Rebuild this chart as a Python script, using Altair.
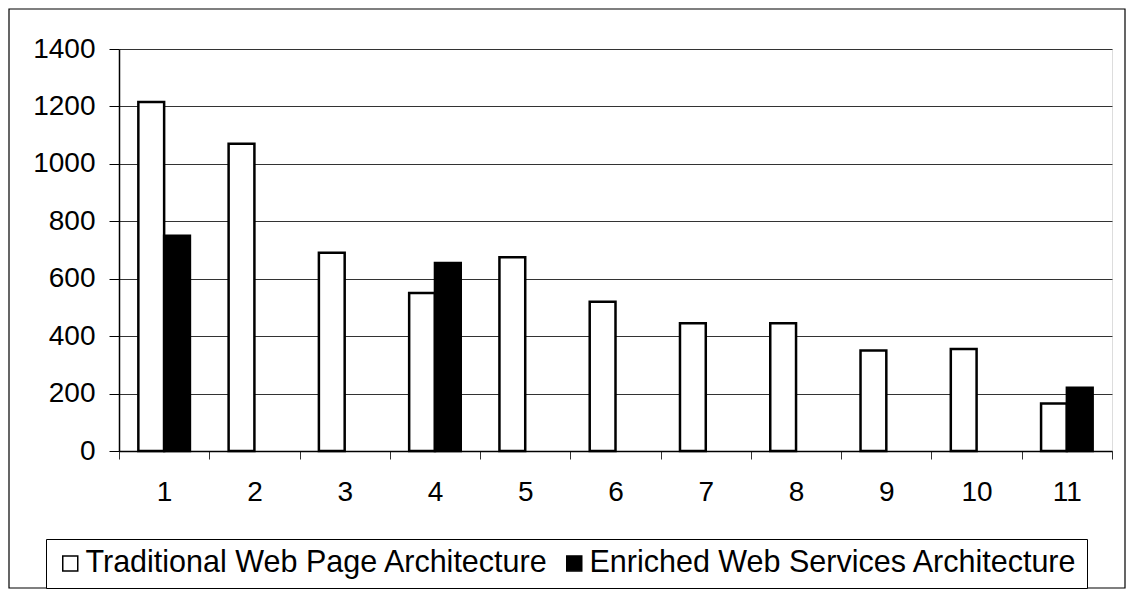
import altair as alt
import pandas as pd

categories = [str(i) for i in range(1, 12)]
traditional = [1215, 1070, 690, 550, 675, 520, 445, 445, 350, 355, 165]
enriched = [750, None, None, 655, None, None, None, None, None, None, 220]
series = ["Traditional Web Page Architecture", "Enriched Web Services Architecture"]
y_ticks = [0, 200, 400, 600, 800, 1000, 1200, 1400]

rows = []
for c, t, e in zip(categories, traditional, enriched):
    rows.append({"cat": c, "series": series[0], "value": t})
    if e is not None:
        rows.append({"cat": c, "series": series[1], "value": e})
df = pd.DataFrame(rows)

W, H = 993, 402
FONT = "Liberation Sans"

bars = alt.Chart(df).mark_bar(stroke="black", strokeWidth=2.5).encode(
    x=alt.X(
        "cat:N",
        sort=categories,
        scale=alt.Scale(paddingInner=0, paddingOuter=0),
        axis=alt.Axis(
            title=None, labelAngle=0, tickBand="extent", grid=False,
            domainColor="black", domainWidth=1.5, tickColor="#333",
            tickSize=8, labelPadding=19, labelFontSize=28, labelColor="black",
            labelFont=FONT,
        ),
    ),
    xOffset=alt.XOffset(
        "series:N", sort=series,
        scale=alt.Scale(domain=series, paddingInner=0, paddingOuter=0.75),
    ),
    y=alt.Y(
        "value:Q",
        scale=alt.Scale(domain=[0, 1400], nice=False),
        axis=alt.Axis(
            title=None, values=y_ticks, format="d", grid=True, gridColor="#333",
            gridWidth=1, domainColor="black", domainWidth=1.5, tickColor="black",
            tickSize=10, labelPadding=14, labelFontSize=28, labelColor="black",
            labelFont=FONT,
        ),
    ),
    fill=alt.Fill(
        "series:N", sort=series,
        scale=alt.Scale(domain=series, range=["white", "black"]),
        legend=alt.Legend(
            title=None, orient="none", legendX=-73, legendY=490,
            direction="horizontal", strokeColor="black", fillColor="white",
            padding=9, labelFontSize=30.5, labelFont=FONT, labelColor="black",
            symbolType="square", symbolSize=225, symbolStrokeColor="black",
            symbolStrokeWidth=1.5, labelOffset=0, columnPadding=10,
            labelLimit=1000, cornerRadius=0,
        ),
    ),
)

frame = alt.Chart(pd.DataFrame({"a": [0]})).mark_rect(
    fill="transparent", stroke="black", strokeWidth=1.2
).encode(
    x=alt.value(-110), x2=alt.value(1006), y=alt.value(-40), y2=alt.value(539)
)

chart = alt.layer(frame, bars).properties(
    width=W, height=H,
    autosize=alt.AutoSizeParams(type="none"),
    padding={"left": 111, "top": 41, "right": 14, "bottom": 138},
).configure_view(stroke="#666", strokeWidth=1).configure(background="white")

chart.save("out.html", embed_options={"renderer": "svg", "actions": False})
